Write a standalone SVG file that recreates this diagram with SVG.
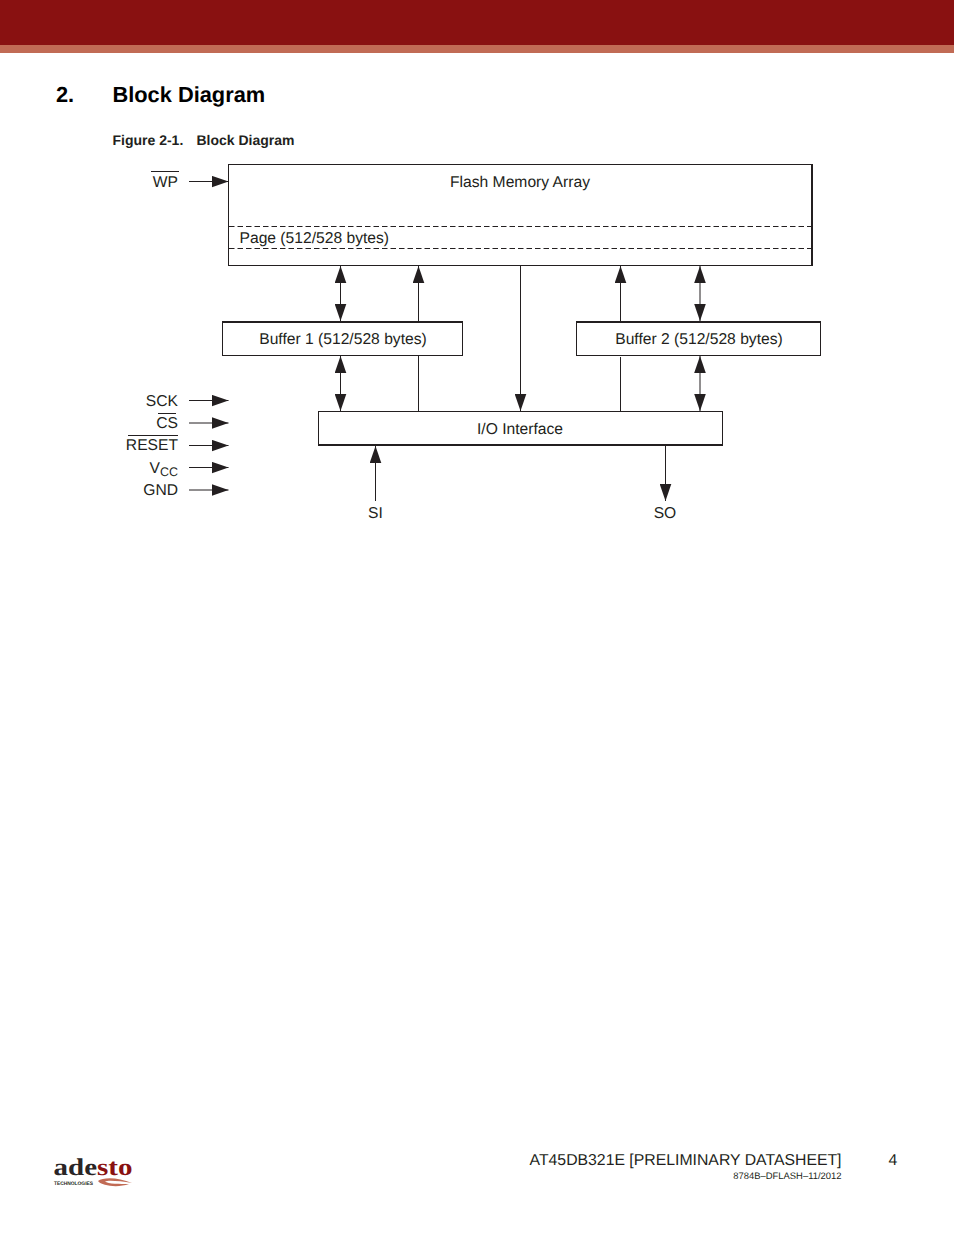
<svg xmlns="http://www.w3.org/2000/svg" width="954" height="1235" viewBox="0 0 954 1235">
<style>
text{font-family:"Liberation Sans",Arial,sans-serif;fill:#231f20;text-rendering:geometricPrecision}
.l{font-size:15.65px}
.m{text-anchor:middle}
.e{text-anchor:end}
.box{fill:#fff;stroke:#231f20;stroke-width:1}
.thick{fill:none;stroke:#231f20;stroke-width:2}
.c{fill:none;stroke:#231f20;stroke-width:1}
.d{fill:none;stroke:#231f20;stroke-width:1;stroke-dasharray:5.5 3}
.o{fill:none;stroke:#231f20;stroke-width:1}
</style>
<defs>
<marker id="a" markerUnits="userSpaceOnUse" markerWidth="17" markerHeight="12" refX="17" refY="6" orient="auto-start-reverse"><path d="M0 .2L17 6L0 11.800Z" fill="#231f20"/></marker>
</defs>
<rect width="954" height="45" fill="#891111"/>
<rect y="45" width="954" height="8" fill="#c16b55"/>
<text x="56" y="102" font-size="21.8" font-weight="700" style="fill:#000">2.</text>
<text x="112.500" y="102" font-size="21.800" font-weight="700" style="fill:#000">Block Diagram</text>
<text x="112.500" y="145" font-size="14" font-weight="700">Figure 2-1.</text>
<text x="196.500" y="145" font-size="14" font-weight="700">Block Diagram</text>
<g id="connectors">
<path class="c" d="M189 181.500H228.500" marker-end="url(#a)"/>
<path class="c" d="M189 400.500H228.500" marker-end="url(#a)"/>
<path class="c" d="M189 423H228.500" marker-end="url(#a)"/>
<path class="c" d="M189 445.500H228.500" marker-end="url(#a)"/>
<path class="c" d="M189 467.500H228.500" marker-end="url(#a)"/>
<path class="c" d="M189 490H228.500" marker-end="url(#a)"/>
<path class="c" d="M340.500 266V321" marker-start="url(#a)" marker-end="url(#a)"/>
<path class="c" d="M418.500 321V266" marker-end="url(#a)"/>
<path class="c" d="M520.500 265.500V411" marker-end="url(#a)"/>
<path class="c" d="M620.500 321V266" marker-end="url(#a)"/>
<path class="c" d="M700 266V321" marker-start="url(#a)" marker-end="url(#a)"/>
<path class="c" d="M340.500 356V411" marker-start="url(#a)" marker-end="url(#a)"/>
<path class="c" d="M418.500 356V411"/>
<path class="c" d="M620.500 357V411"/>
<path class="c" d="M700 356V411" marker-start="url(#a)" marker-end="url(#a)"/>
<path class="c" d="M375.500 501V446" marker-end="url(#a)"/>
<path class="c" d="M665.500 446V501" marker-end="url(#a)"/>
</g>
<g id="flash">
<rect class="box" x="228.500" y="164.500" width="583.500" height="101"/>
<path class="thick" d="M812 164V266"/>
<path class="d" d="M229 226.500H811"/>
<path class="d" d="M229 248.500H811"/>
<text class="l m" x="520" y="187">Flash Memory Array</text>
<text class="l" x="239.500" y="243">Page (512/528 bytes)</text>
</g>
<g id="buffer1">
<rect class="box" x="222.500" y="322" width="240" height="33.500"/>
<path class="thick" d="M222 322H463"/>
<text class="l m" x="343" y="344">Buffer 1 (512/528 bytes)</text>
</g>
<g id="buffer2">
<rect class="box" x="576.500" y="322" width="244" height="33.500"/>
<path class="thick" d="M576 322H821"/>
<text class="l m" x="699" y="344">Buffer 2 (512/528 bytes)</text>
</g>
<g id="io">
<rect class="box" x="318.500" y="411.500" width="404" height="33.500"/>
<path class="thick" d="M318 445H723"/>
<text class="l m" x="520" y="434">I/O Interface</text>
</g>
<g id="pins">
<text class="l e" x="178" y="187">WP</text><path class="o" d="M151 171.500H179"/>
<text class="l e" x="178" y="406">SCK</text>
<text class="l e" x="178" y="428">CS</text><path class="o" d="M158 413.500H176"/>
<text class="l e" x="178" y="450">RESET</text><path class="o" d="M128 435.500H178"/>
<text class="l" x="149.500" y="473">V<tspan font-size="12.500" dy="3">CC</tspan></text>
<text class="l e" x="178" y="495">GND</text>
<text class="l m" x="375.500" y="518">SI</text>
<text class="l m" x="665" y="518">SO</text>
</g>
<g id="footer">
<text x="53.500" y="1175" font-size="24" font-weight="700" textLength="79" lengthAdjust="spacingAndGlyphs" style="font-family:'Liberation Serif',serif;fill:#2a2526">ade<tspan style="fill:#891111">sto</tspan></text>
<text x="54" y="1185" font-size="5" font-weight="700" textLength="39" lengthAdjust="spacingAndGlyphs">TECHNOLOGIES</text>
<path d="M98 1181C103 1177 118 1177 132 1183C120 1181 108 1180 105 1181.500C108 1184 120 1184 129 1184C118 1188 102 1186 98 1181Z" fill="#c16b55"/>
<text class="e" x="841.500" y="1165" font-size="15.800">AT45DB321E [PRELIMINARY DATASHEET]</text>
<text x="888.500" y="1165" font-size="15.800">4</text>
<text class="e" x="841.500" y="1179" font-size="9.440">8784B–DFLASH–11/2012</text>
</g>
</svg>
